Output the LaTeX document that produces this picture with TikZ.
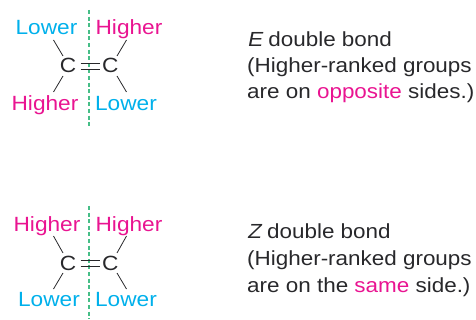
\documentclass[tikz,border=0pt]{standalone}
\usepackage{fontspec}
\setmainfont[FakeStretch=1.1]{Liberation Sans}
\newfontfamily\slantfam[FakeStretch=1.1,FakeSlant=0.2]{Liberation Sans}
\definecolor{hi}{RGB}{233,20,145}
\definecolor{lo}{RGB}{0,176,235}
\definecolor{ink}{RGB}{40,40,43}
\definecolor{axisgreen}{RGB}{70,190,135}
\tikzset{
 x=1pt,y=-1pt,
 lab/.style={font=\fontsize{20.6}{24}\selectfont,inner sep=0pt,anchor=base},
 high/.style={lab,text=hi},
 low/.style={lab,text=lo},
 atom/.style={lab,text=ink},
 captext/.style={font=\fontsize{20.4}{26}\selectfont,inner sep=0pt,anchor=base west,text=ink},
 bond/.style={draw=ink,line width=0.8pt},
 axisline/.style={draw=axisgreen,line width=1.1pt,dash pattern=on 4pt off 2.6pt},
}
\begin{document}
\begin{tikzpicture}
\useasboundingbox (0,0) rectangle (476,320);
% E
\coordinate (ea) at (89,10); \coordinate (eb) at (89,128);
\draw[axisline] (ea) -- (eb);
\node[low] (el1) at (46.5,34.5) {Lower};
\node[high] (eh1) at (129,34.5) {Higher};
\node[high] (eh2) at (45,110.5) {Higher};
\node[low] (el2) at (126,110.5) {Lower};
\node[atom] (ec1) at (68,73) {C};
\node[atom] (ec2) at (110.3,73) {C};
\coordinate (e1a) at (80.5,63.8); \coordinate (e1b) at (99.5,63.8);
\coordinate (e2a) at (80.5,69.2); \coordinate (e2b) at (99.5,69.2);
\draw[bond] (e1a) -- (e1b);
\draw[bond] (e2a) -- (e2b);
\coordinate (p1) at (53.5,40); \coordinate (p2) at (63,56);
\coordinate (p3) at (63,76); \coordinate (p4) at (53.5,92);
\coordinate (p5) at (126.5,40); \coordinate (p6) at (117,56);
\coordinate (p7) at (117,76); \coordinate (p8) at (126.5,92);
\draw[bond] (p1) -- (p2); \draw[bond] (p3) -- (p4);
\draw[bond] (p5) -- (p6); \draw[bond] (p7) -- (p8);
\node[captext] (et1) at (247,46.5) {{\slantfam E} double bond};
\node[captext] (et2) at (247,73) {(Higher-ranked groups};
\node[captext] (et3) at (247,99) {are on \textcolor{hi}{opposite} sides.)};
% Z
\coordinate (za) at (89,206); \coordinate (zb) at (89,319);
\draw[axisline] (za) -- (zb);
\node[high] (zh1) at (47,231.5) {Higher};
\node[high] (zh2) at (129,231.5) {Higher};
\node[low] (zl1) at (49,306.5) {Lower};
\node[low] (zl2) at (126,306.5) {Lower};
\node[atom] (zc1) at (68,270) {C};
\node[atom] (zc2) at (110.3,270) {C};
\coordinate (z1a) at (80.5,260.8); \coordinate (z1b) at (99.5,260.8);
\coordinate (z2a) at (80.5,266.2); \coordinate (z2b) at (99.5,266.2);
\draw[bond] (z1a) -- (z1b);
\draw[bond] (z2a) -- (z2b);
\coordinate (q1) at (53.5,236); \coordinate (q2) at (63,253);
\coordinate (q3) at (63,273); \coordinate (q4) at (53.5,289);
\coordinate (q5) at (126.5,236); \coordinate (q6) at (117,253);
\coordinate (q7) at (117,273); \coordinate (q8) at (126.5,289);
\draw[bond] (q1) -- (q2); \draw[bond] (q3) -- (q4);
\draw[bond] (q5) -- (q6); \draw[bond] (q7) -- (q8);
\node[captext] (zt1) at (247,239) {{\slantfam Z} double bond};
\node[captext] (zt2) at (247,265.5) {(Higher-ranked groups};
\node[captext] (zt3) at (247,292) {are on the \textcolor{hi}{same} side.)};
\end{tikzpicture}
\end{document}
